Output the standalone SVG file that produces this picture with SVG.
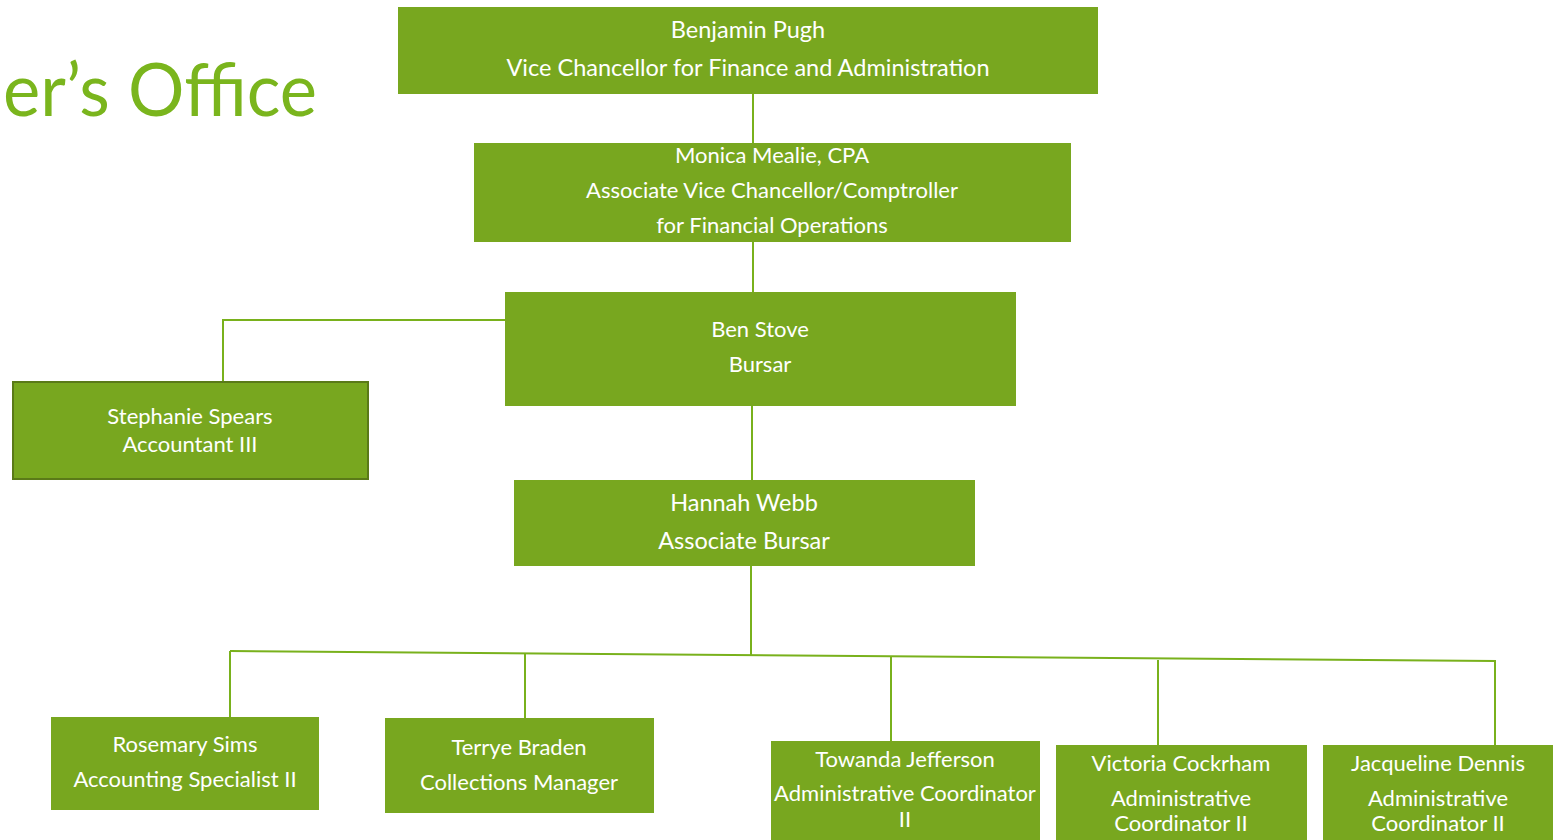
<svg xmlns="http://www.w3.org/2000/svg" width="1558" height="840" viewBox="0 0 1558 840">
<style>
.box{fill:#78a71f;}
.t{font-family:Lato,"Open Sans","Noto Sans",sans-serif;font-size:22px;fill:#ffffff;text-anchor:middle;}
.big{font-size:23.5px;}
.c{stroke:#79b11c;stroke-width:2;fill:none;}
.title{font-family:Lato,"Open Sans","Noto Sans",sans-serif;font-size:74px;fill:#7ab51d;}
</style>
<rect width="1558" height="840" fill="#ffffff"/>
<text class="title" x="3" y="116" textLength="314" lengthAdjust="spacingAndGlyphs">er’s Office</text>
<g id="connectors">
<path class="c" d="M753 94V143"/>
<path class="c" d="M753 242V292"/>
<path class="c" d="M752 406V480"/>
<path class="c" d="M505 320H223V381"/>
<path class="c" d="M751 566V655"/>
<path class="c" d="M230 651L1495 661V745"/>
<path class="c" d="M230 651V717"/>
<path class="c" d="M525 653V718"/>
<path class="c" d="M891 657V741"/>
<path class="c" d="M1158 660V745"/>
</g>
<g id="n1"><rect class="box" x="398" y="7" width="700" height="87"/>
<text class="t big" x="748" y="38">Benjamin Pugh</text>
<text class="t big" x="748" y="76">Vice Chancellor for Finance and Administration</text></g>
<g id="n2"><rect class="box" x="474" y="143" width="597" height="99"/>
<text class="t" x="772" y="163">Monica Mealie, CPA</text>
<text class="t" x="772" y="198">Associate Vice Chancellor/Comptroller</text>
<text class="t" x="772" y="233">for Financial Operations</text></g>
<g id="n3"><rect class="box" x="505" y="292" width="511" height="114"/>
<text class="t" x="760" y="337">Ben Stove</text>
<text class="t" x="760" y="372">Bursar</text></g>
<g id="n4"><rect class="box" x="13" y="382" width="355" height="97" stroke="#5a7a18" stroke-width="2"/>
<text class="t" x="190" y="424">Stephanie Spears</text>
<text class="t" x="190" y="452">Accountant III</text></g>
<g id="n5"><rect class="box" x="514" y="480" width="461" height="86"/>
<text class="t big" x="744" y="511">Hannah Webb</text>
<text class="t big" x="744" y="549">Associate Bursar</text></g>
<g id="n6"><rect class="box" x="51" y="717" width="268" height="93"/>
<text class="t" x="185" y="752">Rosemary Sims</text>
<text class="t" x="185" y="787">Accounting Specialist II</text></g>
<g id="n7"><rect class="box" x="385" y="718" width="269" height="95"/>
<text class="t" x="519" y="755">Terrye Braden</text>
<text class="t" x="519" y="790">Collections Manager</text></g>
<g id="n8"><rect class="box" x="771" y="741" width="269" height="110"/>
<text class="t" x="905" y="767">Towanda Jefferson</text>
<text class="t" x="905" y="801">Administrative Coordinator</text>
<text class="t" x="905" y="827">II</text></g>
<g id="n9"><rect class="box" x="1056" y="745" width="251" height="106"/>
<text class="t" x="1181" y="771">Victoria Cockrham</text>
<text class="t" x="1181" y="806">Administrative</text>
<text class="t" x="1181" y="831">Coordinator II</text></g>
<g id="n10"><rect class="box" x="1323" y="745" width="230" height="106"/>
<text class="t" x="1438" y="771">Jacqueline Dennis</text>
<text class="t" x="1438" y="806">Administrative</text>
<text class="t" x="1438" y="831">Coordinator II</text></g>
</svg>
